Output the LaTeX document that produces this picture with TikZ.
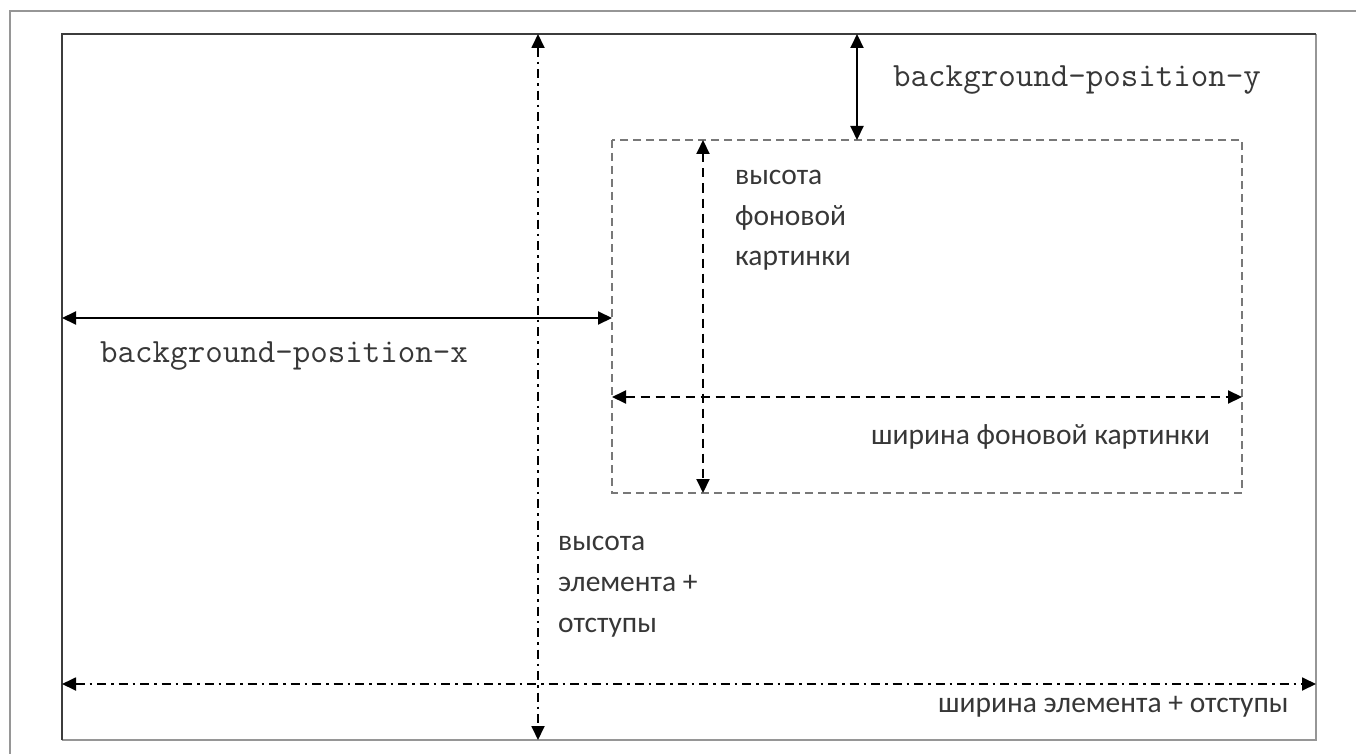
\documentclass[tikz,border=0pt]{standalone}
\usepackage{fontspec}
\setmainfont{Carlito}
\usetikzlibrary{arrows.meta}
\definecolor{framegray}{RGB}{150,150,150}
\definecolor{darkline}{RGB}{60,60,60}
\definecolor{dashgray}{RGB}{120,120,120}
\definecolor{txt}{RGB}{55,55,55}
\tikzset{
  twotip/.style={{Triangle[length=14pt,width=13pt]}-{Triangle[length=14pt,width=13pt]}},
  solidarrow/.style={twotip, line width=2pt, black},
  dasharrow/.style={twotip, line width=2pt, black, dash pattern=on 9pt off 6pt},
  dotdasharrow/.style={twotip, line width=1.8pt, black, dash pattern=on 9pt off 5pt on 2.5pt off 5pt},
  cyr/.style={font=\fontsize{29.5}{40}\selectfont, text=txt, inner sep=0pt, anchor=base west},
  mono/.style={font=\ttfamily\fontsize{34}{40}\selectfont, text=txt, inner sep=0pt, anchor=base west},
}
\begin{document}
\begin{tikzpicture}[x=1pt,y=-1pt]
\useasboundingbox (0,0) rectangle (1356,754);
\fill[white] (0,0) rectangle (1356,754);
% outer frame
\draw[framegray, line width=2.5pt] (10,754) -- (10,11) -- (1356,11);
% element box
\coordinate (eTL) at (62,34);
\coordinate (eTR) at (1316,34);
\coordinate (eBL) at (62,740);
\coordinate (eBR) at (1316,740);
\draw[framegray, line width=2pt] (eTR) -- (eBR) -- (eBL);
\draw[darkline, line width=2.5pt] (eBL) -- (eTL) -- (eTR);
% background image box
\coordinate (bTL) at (612,140);
\coordinate (bTR) at (1242,140);
\coordinate (bBL) at (612,493);
\coordinate (bBR) at (1242,493);
\draw[dashgray, line width=1.6pt, dash pattern=on 8pt off 5pt] (bTL) rectangle (bBR);
% element height / width
\coordinate (hTop) at (538,34);
\coordinate (hBot) at (538,740);
\draw[dotdasharrow] (hTop) -- (hBot);
\coordinate (wL) at (62,684);
\coordinate (wR) at (1316,684);
\draw[dotdasharrow] (wL) -- (wR);
% background-position-x
\coordinate (pxL) at (62,318);
\coordinate (pxR) at (612,318);
\draw[solidarrow] (pxL) -- (pxR);
% background-position-y
\coordinate (pyT) at (857,34);
\coordinate (pyB) at (857,140);
\draw[solidarrow] (pyT) -- (pyB);
% image height / width
\coordinate (ihT) at (703,140);
\coordinate (ihB) at (703,493);
\draw[dasharrow] (ihT) -- (ihB);
\coordinate (iwL) at (612,397);
\coordinate (iwR) at (1242,397);
\draw[dasharrow] (iwL) -- (iwR);
% labels
\node[mono] (lpy) at (893,87) {background-position-y};
\node[mono] (lpx) at (100,362) {background-position-x};
\node[cyr] (ih1) at (735,185) {высота};
\node[cyr] (ih2) at (735,225) {фоновой};
\node[cyr] (ih3) at (735,265) {картинки};
\node[cyr] (iw) at (871,444) {ширина фоновой картинки};
\node[cyr] (eh1) at (558,550) {высота};
\node[cyr] (eh2) at (558,591) {элемента +};
\node[cyr] (eh3) at (558,632) {отступы};
\node[cyr] (ew) at (938,712) {ширина элемента + отступы};
\end{tikzpicture}
\end{document}
